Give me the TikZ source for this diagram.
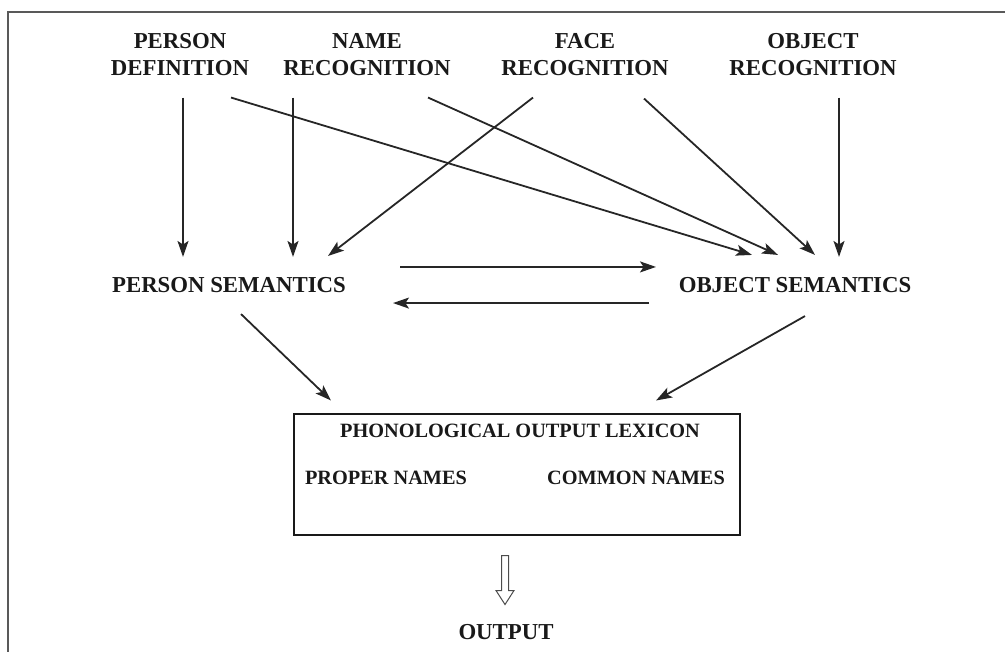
\documentclass[tikz,border=0pt]{standalone}
\usepackage{fontspec}
\setmainfont{Liberation Serif}
\usetikzlibrary{arrows.meta,calc}

\begin{document}
\begin{tikzpicture}[
x=0.5pt, y=-0.5pt,
modnode/.style={align=center, text=black!90, font=\fontsize{11.4}{13.5}\selectfont\bfseries, inner xsep=2pt, inner ysep=10pt},
subnode/.style={text=black!90, font=\fontsize{10.15}{12}\selectfont\bfseries, inner sep=1pt},
arr/.style={-{Stealth[length=8pt,width=5.5pt,inset=1.8pt]}, line width=0.9pt, black!85},
]
    \useasboundingbox (0,0) rectangle (1005,652);
    \draw [gray!70!black, line width=0.9pt] (8,652) -- (8,12) -- (1005,12);

    \node [modnode] (pdef) at (180,55) {PERSON\\DEFINITION};
    \node [modnode] (nrec) at (367,55) {NAME\\RECOGNITION};
    \node [modnode] (frec) at (585,55) {FACE\\RECOGNITION};
    \node [modnode] (orec) at (813,55) {OBJECT\\RECOGNITION};

    \node [modnode] (psem) at (229,285) {PERSON SEMANTICS};
    \node [modnode] (osem) at (795,285) {OBJECT SEMANTICS};

    \node [draw, black!90, line width=1pt, minimum width=223pt, minimum height=60.5pt, inner sep=0pt] (pol) at (517,474) {};
    \node [subnode] (poltitle) at (520,431) {PHONOLOGICAL OUTPUT LEXICON};
    \node [subnode] (proper) at (386,478) {PROPER NAMES};
    \node [subnode] (common) at (636,478) {COMMON NAMES};

    \node [modnode, inner ysep=2pt] (out) at (506,632) {OUTPUT};

    % into person semantics
    \draw [arr] ($(pdef.south)+(3,1)$) -- ($(psem.north)+(-46,0)$);
    \draw [arr] ($(nrec.south)+(-74,1)$) -- ($(psem.north)+(64,0)$);
    \draw [arr] ($(frec.south)+(-52,1)$) -- ($(psem.north)+(99,-1)$);
    % into object semantics
    \draw [arr] ($(pdef.south)+(51,1)$) -- ($(osem.north)+(-43,-2)$);
    \draw [arr] ($(nrec.south)+(61,1)$) -- ($(osem.north)+(-17,-2)$);
    \draw [arr] ($(frec.south)+(59,2)$) -- ($(osem.north)+(20,-2)$);
    \draw [arr] ($(orec.south)+(26,1)$) -- ($(osem.north)+(44,0)$);

    \draw [arr] ($(psem.north)+(171,10)$) -- ($(osem.north)+(-139,10)$);
    \draw [arr] ($(osem.south)+(-146,-10)$) -- ($(psem.south)+(164,-10)$);

    \draw [arr] ($(psem.south)+(12,1)$) -- ($(pol.north)+(-186,-12)$);
    \draw [arr] ($(osem.south)+(10,3)$) -- ($(pol.north)+(139,-12)$);

    % hollow arrow to output
    \coordinate (hs) at ($(pol.south)+(-12,20)$);
    \draw [gray!60!black, line width=0.5pt] ($(hs)+(-3.5,0)$) -- ++(0,35) -- ++(-5.5,0) -- ++(9,14) -- ++(9,-14) -- ++(-5.5,0) -- ++(0,-35) -- cycle;
\end{tikzpicture}
\end{document}
